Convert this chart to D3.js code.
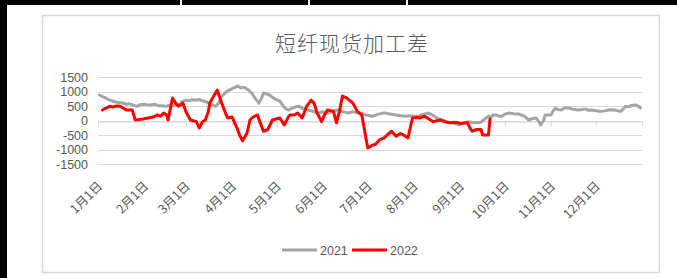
<!DOCTYPE html>
<html><head><meta charset="utf-8">
<script src="https://cdn.jsdelivr.net/npm/d3@7/dist/d3.min.js"></script>
<style>
html,body{margin:0;padding:0;background:#fff;}
svg{display:block;}
</style></head>
<body>
<svg id="c" width="677" height="278"></svg>
<script>
const title = "短纤现货加工差";
const seriesNames = ["2021", "2022"];
const yTicks = [-1500, -1000, -500, 0, 500, 1000, 1500];
const monthLabels = ["1月1日","2月1日","3月1日","4月1日","5月1日","6月1日","7月1日","8月1日","9月1日","10月1日","11月1日","12月1日"];

const dates2021 = ["01-02","01-04","01-06","01-08","01-11","01-13","01-15","01-18","01-20","01-22","01-25","01-27","01-29",
"02-01","02-03","02-05","02-08","02-10","02-16","02-18","02-20","02-23","02-25","02-26",
"03-01","03-03","03-05","03-08","03-10","03-12","03-15","03-16","03-18","03-21","03-23","03-25","03-28","03-30",
"04-01","04-05","04-07","04-09","04-12","04-14","04-16","04-19","04-21","04-22","04-26","04-27","04-29",
"05-03","05-05","05-07","05-09","05-11","05-14","05-16","05-18","05-20","05-22","05-25","05-27","05-29",
"06-01","06-03","06-05","06-08","06-11","06-14","06-16","06-18","06-21","06-23","06-25","06-27","06-29",
"07-01","07-04","07-06","07-08","07-12","07-13","07-15","07-19","07-20","07-22","07-26","07-28",
"08-02","08-04","08-06","08-09","08-11","08-13","08-16","08-18","08-20","08-23","08-24","08-26","08-30","08-31",
"09-02","09-06","09-07","09-09","09-13","09-15","09-17","09-20","09-22","09-23","09-25","09-27","09-29",
"10-01","10-04","10-08","10-10","10-12","10-14","10-17","10-19","10-22","10-24","10-25","10-27","10-28",
"11-01","11-02","11-04","11-05","11-08","11-10","11-13","11-15","11-17","11-19","11-22","11-24","11-26","11-28",
"12-01","12-03","12-05","12-08","12-10","12-14","12-16","12-18","12-21","12-23","12-25","12-28","12-30","12-31"];
const values2021 = [880,820,780,720,665,640,620,600,560,580,520,490,540,
560,540,535,560,520,490,530,500,535,560,640,
700,680,720,700,730,680,640,600,560,490,600,840,980,1050,
1100,1190,1120,1150,1050,950,800,600,800,950,880,840,760,
665,520,400,360,420,480,490,420,400,360,320,280,260,
300,240,260,330,360,300,280,260,300,280,250,260,200,
180,145,180,220,260,260,230,200,190,170,145,160,
145,145,200,230,260,200,100,50,20,-40,-60,-80,-120,-155,
-100,-50,-40,-70,-80,-60,30,145,120,190,190,150,145,
220,260,220,230,190,150,17,60,86,-50,-155,0,190,
190,300,430,380,360,430,430,400,380,360,380,400,350,360,
340,320,315,340,370,360,330,315,490,470,520,535,480,430];

const dates2022 = ["01-04","01-06","01-09","01-11","01-13","01-16","01-18","01-20","01-24","01-26","01-28","01-31",
"02-07","02-10","02-12","02-14","02-16","02-17","02-20","02-22","02-24","02-27",
"03-01","03-04","03-08","03-10","03-12","03-14","03-16","03-17","03-22","03-23","03-25","03-28","03-29",
"04-01","04-04","04-06","04-08","04-11","04-13","04-15","04-18","04-20","04-22","04-25","04-28",
"05-03","05-06","05-09","05-10","05-13","05-15","05-18","05-21","05-24","05-26","05-28","05-31",
"06-02","06-04","06-08","06-10","06-12","06-14","06-16","06-17","06-21","06-24","06-27",
"07-01","07-04","07-06","07-09","07-12","07-14","07-17","07-20","07-23","07-25","07-28","07-31",
"08-03","08-05","08-08","08-10","08-14","08-17","08-19","08-22","08-25","08-29",
"09-01","09-06","09-08","09-09","09-12","09-15","09-16","09-20","09-21"];
const values2022 = [360,420,490,460,500,490,420,360,360,17,30,50,
120,190,150,260,200,17,775,600,490,600,
300,17,-40,-260,-50,17,300,600,1050,900,600,200,86,
120,-225,-500,-700,-430,17,120,190,-100,-370,-310,17,
86,-155,150,190,200,260,86,490,700,600,260,-40,
200,360,315,-80,315,840,800,775,600,315,190,
-950,-850,-830,-660,-600,-500,-370,-540,-450,-500,-600,86,
100,86,150,86,-40,0,17,-50,-80,-60,
-100,-80,-300,-370,-310,-310,-500,-500,50];

const parse = d3.timeParse("%Y-%m-%d");
const toPts = (ds, vs) => ds.map((d, i) => ({date: parse("2021-" + d), value: vs[i]}));
const series = [
  {name: seriesNames[0], color: "#A5A5A5", pts: toPts(dates2021, values2021)},
  {name: seriesNames[1], color: "#FF0000", pts: toPts(dates2022, values2022)}
];

const svg = d3.select("#c");
// black scan edges
svg.append("rect").attr("x",0).attr("y",0).attr("width",677).attr("height",5).attr("fill","#000");
svg.append("rect").attr("x",0).attr("y",0).attr("width",7).attr("height",278).attr("fill","#000");
[180,308,406].forEach(x => svg.append("rect").attr("x",x).attr("y",0).attr("width",2).attr("height",5).attr("fill","#fff"));

// chart frame
svg.append("rect").attr("x",42.5).attr("y",15.5).attr("width",617).attr("height",257)
  .attr("fill","#fff").attr("stroke","#d9d9d9").attr("stroke-width",1.5);

svg.append("text").attr("x",352).attr("y",51).attr("text-anchor","middle")
  .attr("font-family","'Noto Sans CJK SC', sans-serif").attr("font-weight",300)
  .attr("font-size",21).attr("letter-spacing",1).attr("fill","#595959").text(title);

const x = d3.scaleTime().domain([parse("2021-01-01"), parse("2022-01-01")]).range([98, 642]);
const y = d3.scaleLinear().domain([-1500, 1500]).range([164, 77]);

// gridlines
svg.append("g").selectAll("line").data(yTicks).join("line")
  .attr("x1", 98).attr("x2", 642)
  .attr("y1", d => Math.round(y(d)) + 0.5).attr("y2", d => Math.round(y(d)) + 0.5)
  .attr("stroke", "#d9d9d9").attr("stroke-width", 1);

// y labels
svg.append("g").selectAll("text").data(yTicks).join("text")
  .attr("x", 88).attr("y", d => y(d) + 4.5).attr("text-anchor", "end")
  .attr("font-family", "'Liberation Sans', Arial, sans-serif").attr("font-size", 12.5)
  .attr("fill", "#595959").text(d => d);

// x axis at zero with ticks
const monthTicks = d3.timeMonth.range(parse("2021-01-01"), parse("2022-01-02"));
const xAxis = d3.axisBottom(x).tickValues(monthTicks).tickSize(5).tickSizeOuter(0).tickFormat("");
const ax = svg.append("g").attr("transform", `translate(0,${Math.round(y(0)) + 0.5})`).call(xAxis);
ax.select(".domain").attr("stroke", "#d9d9d9");
ax.selectAll(".tick line").attr("stroke", "#d9d9d9");

// x labels
const labelDates = monthTicks.slice(0, 12);
svg.append("g").selectAll("text").data(labelDates).join("text")
  .attr("transform", (d) => `translate(${x(d) + 5},${187}) rotate(-45)`)
  .attr("text-anchor", "end")
  .attr("font-family", "'Noto Sans CJK SC', sans-serif").attr("font-size", 12.5)
  .attr("fill", "#595959").text((d, i) => monthLabels[i]);

// lines
const line = d3.line().x(d => x(d.date)).y(d => y(d.value));
series.forEach(s => {
  svg.append("path").datum(s.pts).attr("d", line).attr("fill", "none")
    .attr("stroke", s.color).attr("stroke-width", 3).attr("stroke-linejoin", "round").attr("stroke-linecap", "round");
});

// legend
const leg = [{x: 282}, {x: 352}];
series.forEach((s, i) => {
  const lx = leg[i].x;
  svg.append("line").attr("x1", lx).attr("x2", lx + 35).attr("y1", 250).attr("y2", 250)
    .attr("stroke", s.color).attr("stroke-width", 3);
  svg.append("text").attr("x", lx + 38).attr("y", 254.5)
    .attr("font-family", "'Liberation Sans', Arial, sans-serif").attr("font-size", 12.5)
    .attr("fill", "#595959").text(s.name);
});
</script>
</body></html>
